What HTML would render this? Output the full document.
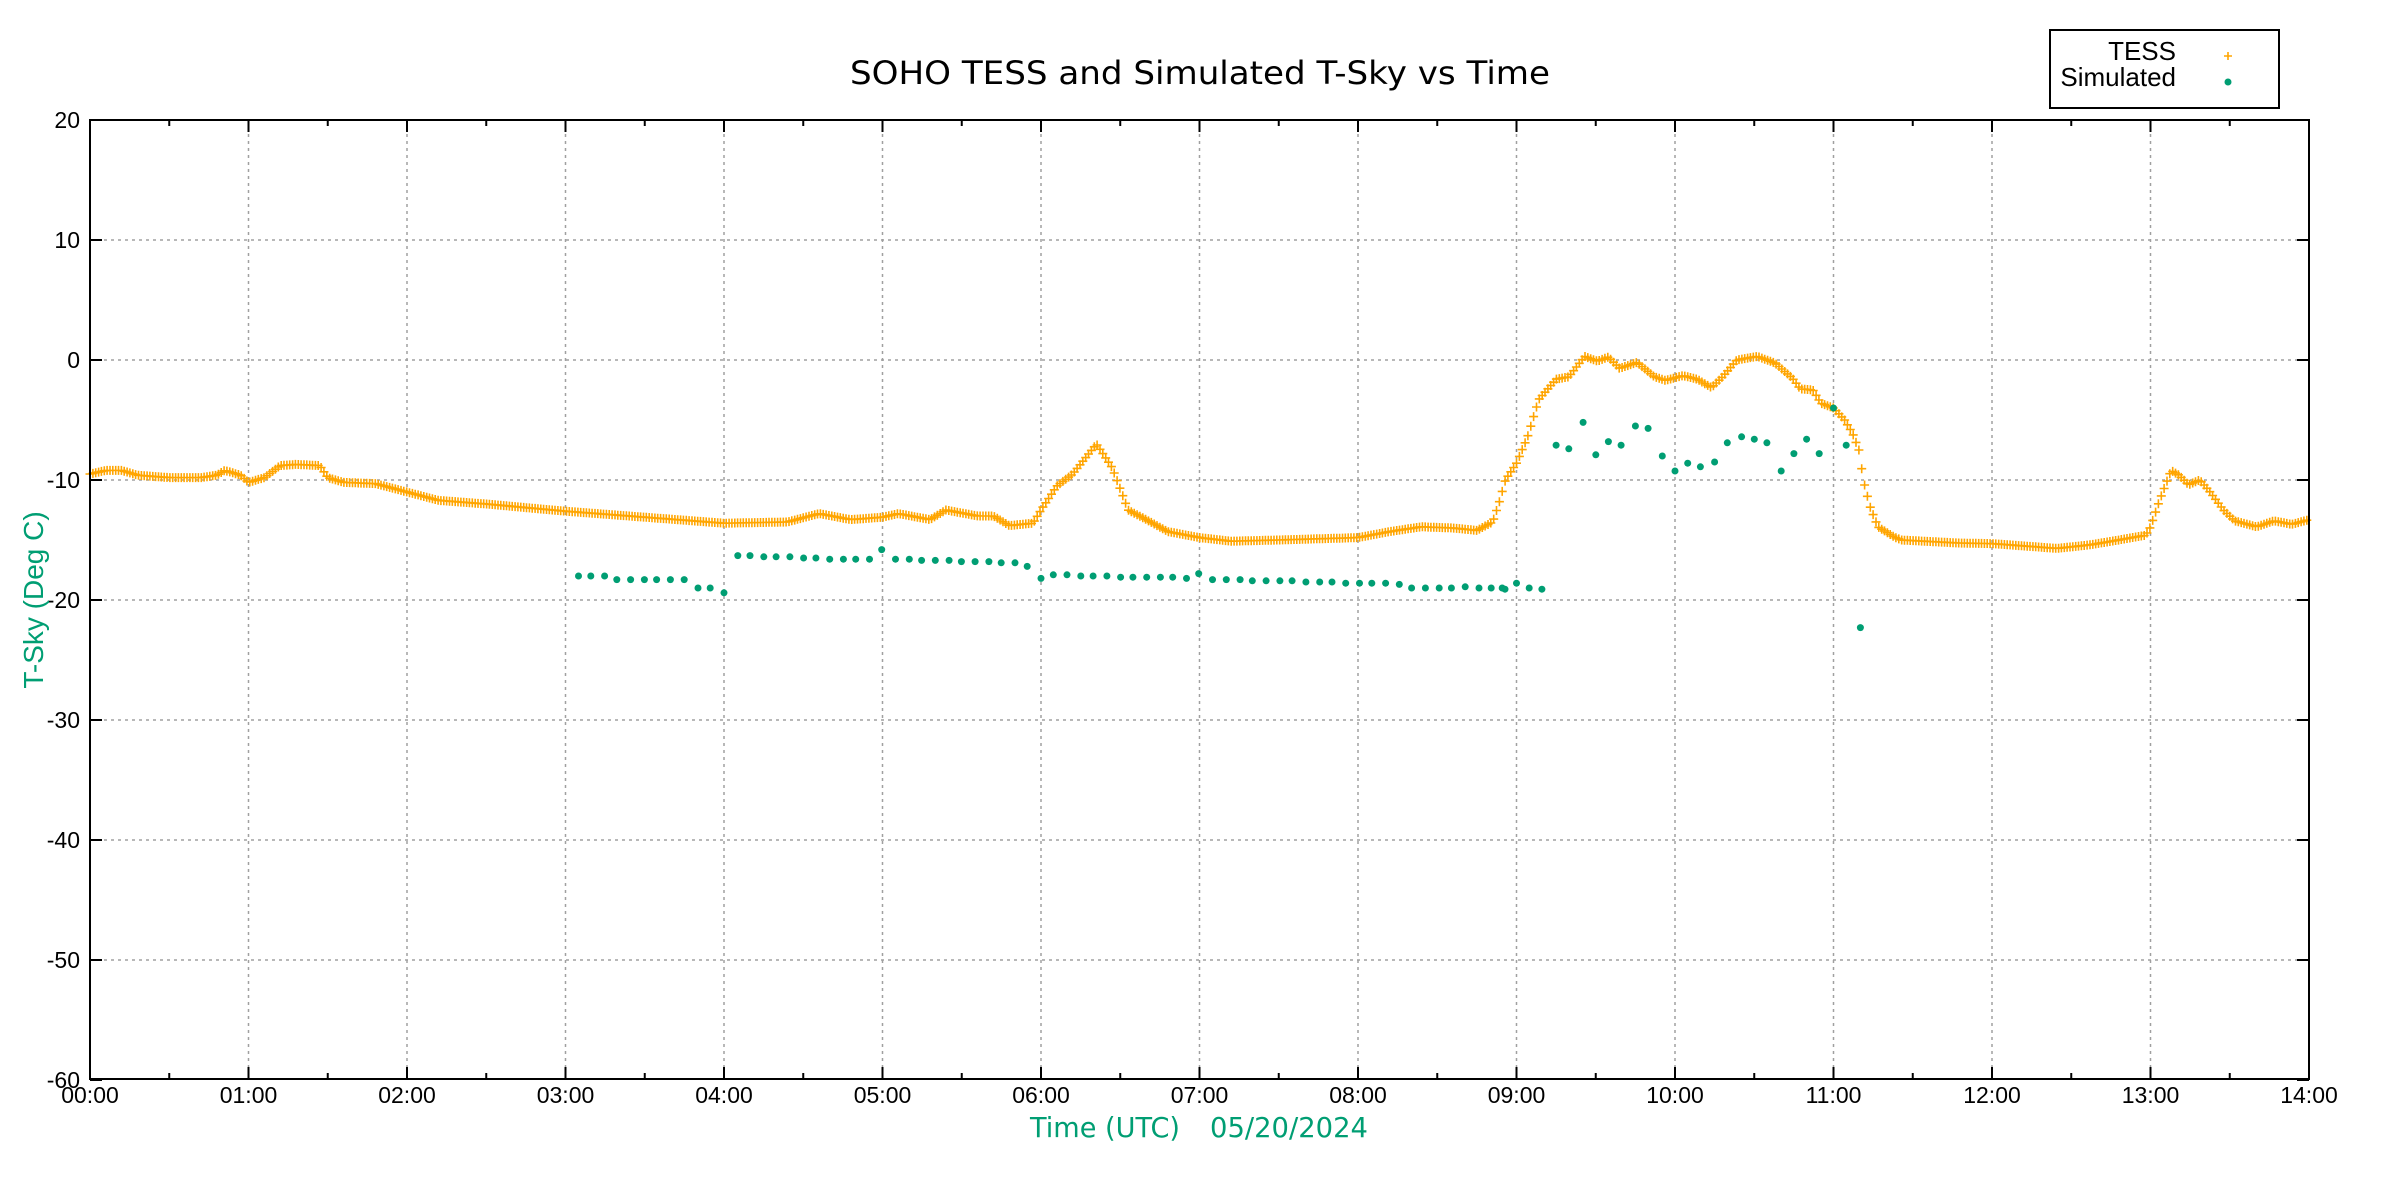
<!DOCTYPE html>
<html><head><meta charset="utf-8"><style>
html,body{margin:0;padding:0;background:#fff;}
svg{display:block;}
</style></head><body>
<svg id="s" width="2400" height="1200" xmlns="http://www.w3.org/2000/svg">
<rect width="2400" height="1200" fill="#fff"/>
<g id="grid" stroke="#a0a0a0" stroke-width="1.5" stroke-dasharray="3,4"></g>
<g id="ticks" stroke="#000" stroke-width="2"></g>
<g id="data"></g>
<rect x="90" y="120" width="2219" height="959" fill="none" stroke="#000" stroke-width="2"/>
<g id="lbl" font-family="Liberation Sans, sans-serif" font-size="23" fill="#000"></g>
<text x="1200" y="84" text-anchor="middle" font-family="DejaVu Sans, sans-serif" font-size="32" textLength="700" lengthAdjust="spacingAndGlyphs">SOHO TESS and Simulated T-Sky vs Time</text>
<text x="1030" y="1137" font-family="DejaVu Sans, sans-serif" font-size="28" fill="#009e73" textLength="150" lengthAdjust="spacingAndGlyphs">Time (UTC)</text>
<text x="1210" y="1137" font-family="DejaVu Sans, sans-serif" font-size="28" fill="#009e73" textLength="158" lengthAdjust="spacingAndGlyphs">05/20/2024</text>
<text transform="translate(43,600) rotate(-90)" text-anchor="middle" font-family="Liberation Sans, sans-serif" font-size="28" fill="#009e73">T-Sky (Deg C)</text>
<rect x="2050" y="30" width="229" height="78" fill="#fff" stroke="#000" stroke-width="2"/>
<text x="2176" y="60" text-anchor="end" font-family="Liberation Sans, sans-serif" font-size="26">TESS</text>
<text x="2176" y="86" text-anchor="end" font-family="Liberation Sans, sans-serif" font-size="26">Simulated</text>
<path d="M2224,56h8M2228,52v8" stroke="#ffa500" stroke-width="1.6"/>
<circle cx="2228" cy="82" r="3.5" fill="#009e73"/>
</svg>
<script>
const NS="http://www.w3.org/2000/svg";
const X=h=>90+158.5*h, Y=t=>360-12*t;
function el(p,tag,a,txt){const e=document.createElementNS(NS,tag);for(const k in a)e.setAttribute(k,a[k]);if(txt!==undefined)e.textContent=txt;document.getElementById(p).appendChild(e);}
for(let h=1;h<14;h++)el("grid","line",{x1:X(h),x2:X(h),y1:120,y2:1079});
for(let t=-50;t<=10;t+=10)el("grid","line",{x1:90,x2:2309,y1:Y(t),y2:Y(t)});
for(let i=1;i<28;i++){const x=X(i/2),L=(i%2)?6:12;
 el("ticks","line",{x1:x,x2:x,y1:1079,y2:1079-L});el("ticks","line",{x1:x,x2:x,y1:120,y2:120+L});}
for(let t=-60;t<=20;t+=10){el("ticks","line",{x1:90,x2:102,y1:Y(t),y2:Y(t)});el("ticks","line",{x1:2309,x2:2297,y1:Y(t),y2:Y(t)});
 el("lbl","text",{x:80,y:Y(t)+8,"text-anchor":"end"},String(t));}
for(let h=0;h<=14;h++)el("lbl","text",{x:X(h),y:1103,"text-anchor":"middle"},(h<10?"0":"")+h+":00");
const T=[[0,-9.5],[0.1,-9.2],[0.2,-9.2],[0.3,-9.6],[0.5,-9.8],[0.7,-9.8],[0.8,-9.6],[0.85,-9.2],[0.95,-9.6],[1.0,-10.2],[1.1,-9.8],[1.2,-8.8],[1.3,-8.7],[1.45,-8.8],[1.5,-9.8],[1.6,-10.2],[1.8,-10.3],[2.0,-11],[2.2,-11.7],[2.5,-12],[3.0,-12.6],[3.5,-13.1],[4.0,-13.6],[4.4,-13.5],[4.6,-12.8],[4.8,-13.3],[5.0,-13.1],[5.1,-12.8],[5.3,-13.3],[5.4,-12.5],[5.6,-13],[5.7,-13],[5.8,-13.8],[5.95,-13.6],[6.0,-12.5],[6.1,-10.5],[6.2,-9.5],[6.35,-7],[6.45,-9],[6.55,-12.5],[6.65,-13.2],[6.8,-14.3],[7.0,-14.8],[7.2,-15.1],[7.5,-15],[8.0,-14.8],[8.2,-14.3],[8.4,-13.9],[8.6,-14],[8.75,-14.2],[8.85,-13.5],[8.89,-11.9],[8.93,-10],[9.0,-8.6],[9.07,-6.4],[9.14,-3.3],[9.25,-1.6],[9.33,-1.4],[9.43,0.3],[9.51,-0.1],[9.58,0.25],[9.65,-0.7],[9.76,-0.2],[9.87,-1.4],[9.94,-1.7],[10.05,-1.3],[10.14,-1.6],[10.23,-2.3],[10.3,-1.4],[10.39,0],[10.52,0.3],[10.63,-0.25],[10.74,-1.5],[10.79,-2.4],[10.87,-2.5],[10.92,-3.6],[11.0,-4],[11.07,-5],[11.12,-6.1],[11.16,-7.5],[11.19,-10.1],[11.23,-12.2],[11.28,-13.9],[11.39,-14.8],[11.43,-15],[11.79,-15.25],[12.0,-15.3],[12.41,-15.7],[12.62,-15.4],[12.8,-15],[12.97,-14.6],[13.0,-13.9],[13.06,-11.6],[13.13,-9.2],[13.18,-9.6],[13.24,-10.4],[13.31,-10],[13.37,-10.9],[13.46,-12.5],[13.53,-13.4],[13.67,-13.9],[13.78,-13.4],[13.89,-13.7],[14.0,-13.3]];
let d="";let j=0;
for(let h=0;h<=14.0001;h+=0.018){while(j<T.length-2&&T[j+1][0]<h)j++;const a=T[j],b=T[j+1];let f=(h-a[0])/(b[0]-a[0]);f=Math.max(0,Math.min(1,f));const t=a[1]+(b[1]-a[1])*f;
 const x=X(h),y=Y(t);d+=`M${(x-4.5).toFixed(1)},${y.toFixed(1)}h9M${x.toFixed(1)},${(y-4.5).toFixed(1)}v9`;}
el("data","path",{d:d,stroke:"#ffa500","stroke-width":1.6,fill:"none"});
const disp=[[378,-18],[386,-18],[395,-18],[403,-18.3],[412,-18.3],[421,-18.3],[429,-18.3],[438,-18.3],[447,-18.3],[456,-19],[464,-19],[473,-19.4],[482,-16.3],[490,-16.3],[499,-16.4],[507,-16.4],[516,-16.4],[525,-16.5],[533,-16.5],[542,-16.6],[551,-16.6],[559,-16.6],[568,-16.6],[576,-15.8],[585,-16.6],[594,-16.6],[602,-16.7],[611,-16.7],[620,-16.7],[628,-16.8],[637,-16.8],[646,-16.8],[654,-16.9],[663,-16.9],[671,-17.2],[680,-18.2],[688,-17.9],[697,-17.9],[706,-18],[714,-18],[723,-18],[732,-18.1],[740,-18.1],[749,-18.1],[758,-18.1],[766,-18.1],[775,-18.2],[783,-17.8],[792,-18.3],[801,-18.3],[810,-18.3],[818,-18.4],[827,-18.4],[836,-18.4],[844,-18.4],[853,-18.5],[862,-18.5],[870,-18.5],[879,-18.6],[888,-18.6],[896,-18.6],[905,-18.6],[914,-18.7],[922,-19],[931,-19],[940,-19],[948,-19],[957,-18.9],[966,-19],[974,-19],[983,-19.1]];
const S=disp.map(p=>[(p[0]-59)/103.5,p[1]]).concat([[8.91,-19],[9.0,-18.6],[9.08,-19],[9.16,-19.1],[9.25,-7.1],[9.33,-7.4],[9.42,-5.2],[9.5,-7.9],[9.58,-6.8],[9.66,-7.1],[9.75,-5.5],[9.83,-5.7],[9.92,-8],[10.0,-9.25],[10.08,-8.6],[10.16,-8.9],[10.25,-8.5],[10.33,-6.9],[10.42,-6.4],[10.5,-6.6],[10.58,-6.9],[10.67,-9.25],[10.75,-7.8],[10.83,-6.6],[10.91,-7.8],[11.0,-4],[11.08,-7.1],[11.17,-22.3]]);
for(const p of S)el("data","circle",{cx:X(p[0]).toFixed(1),cy:Y(p[1]).toFixed(1),r:3.5,fill:"#009e73"});
</script>
</body></html>
